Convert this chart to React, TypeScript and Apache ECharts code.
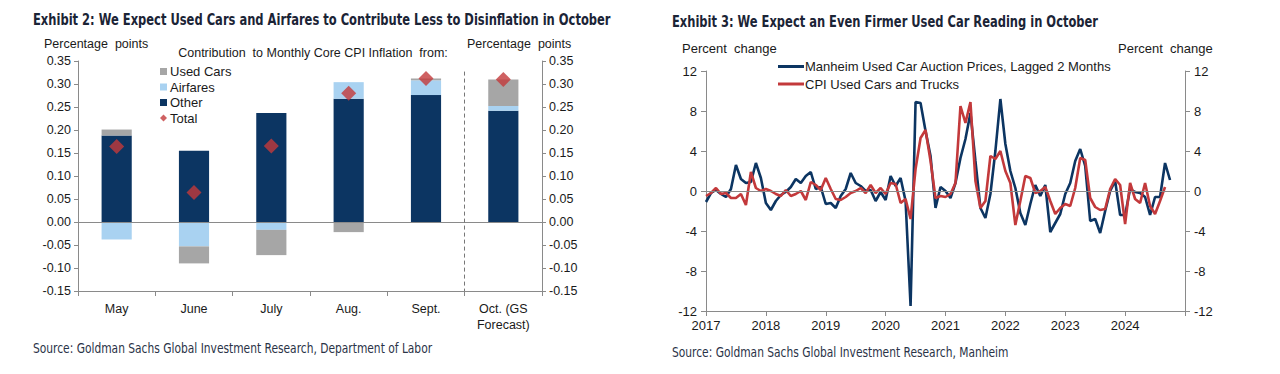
import React, { useEffect, useRef } from "react";
import * as echarts from "echarts";

// ---- Exhibit 2 data ----
const categories = ["May", "June", "July", "Aug.", "Sept.", "Oct. (GS\nForecast)"];
const otherValues = [0.188, 0.155, 0.237, 0.268, 0.276, 0.242];
const airfaresValues = [-0.038, -0.053, -0.017, 0.036, 0.032, 0.01];
const usedCarsValues = [0.013, -0.037, -0.055, -0.022, 0.004, 0.058];
const totalValues = [0.164, 0.064, 0.165, 0.280, 0.312, 0.310];

// ---- Exhibit 3 data (monthly, Jan 2017 onwards) ----
const yearLabels = ["2017", "2018", "2019", "2020", "2021", "2022", "2023", "2024"];
const manheimValues = [
  -1.1, -0.2, 0.1, -0.3, -0.6, 0.2, 2.6, 1.2, 0.8, 0.9, 2.8, 1.3,
  -1.2, -1.9, -1.0, -0.4, -0.1, 0.4, 1.2, 0.8, 1.5, 1.9, 0.2, 0.4,
  -1.3, -1.2, -1.7, -0.5, 0.2, 1.8, 0.8, 0.5, 0.0, 0.1, -1.0, -0.1,
  -0.9, 1.5, 0.5, 1.3, -1.0, -11.5, 8.9, 8.8, 6.0, 3.5, -1.7, 0.4,
  0.0, -0.7, 0.8, 3.3, 5.2, 7.8, 3.0, -1.7, -2.7, -0.3, 4.0, 9.2,
  4.7, 2.0, 0.3, -2.2, -3.4, -1.3, 0.6, -0.5, 0.6, -4.1, -3.2, -2.3,
  -0.3, 0.8, 3.0, 4.2, 2.5, -3.0, -2.8, -4.2, -2.0, 0.0, 1.0, -2.4,
  -2.4, 0.2, -0.1, -0.2, -0.6, -2.4, -0.6, -0.6, 2.8, 1.1,
];
const cpiUsedCarsValues = [
  -0.5, -0.2, 0.3, -0.3, -0.2, -0.7, -0.7, -0.3, -1.4, 1.9, 0.3, 0.0,
  0.2, 0.0, -0.3, -0.5, 0.1, -0.5, -0.3, 0.0, -0.9, 0.9, 0.6, 0.1,
  1.3, 0.2, -0.8, -0.9, -0.6, -0.2, 0.0, 0.3, -0.2, 0.6, -0.2, 0.3,
  -0.3, 0.8, 0.7, -1.2, -0.8, -2.8, 2.2, 5.3, 6.1, 3.0, -0.7, -0.5,
  -0.6, -0.3, 0.8, 8.5, 6.8, 8.9, 1.0, -1.7, -1.0, 3.5, 3.2, 4.0,
  2.0, 0.8, -3.4, -1.0, 1.5, 1.3, -0.2, 0.0, 0.4, -1.0, -2.3, -1.7,
  -1.3, -1.5, 0.3, 3.3, 3.1, -0.7, -1.6, -1.9, -1.8, 0.2, 1.2, 0.6,
  -3.3, 0.8, -0.8, -1.2, 0.8, -1.5, -2.3, -1.0, 0.4,
];

const NAVY = "#0c3562";
const LIGHT_BLUE = "#a9d2f1";
const GREY = "#a6a6a6";
const RED = "#c3393b";
const AXIS = "#8a8a8a";
const TXT = "#1a1a1a";
const SANS = "'Liberation Sans', Arial, sans-serif";
const NARROW = "'DejaVu Sans Condensed', 'DejaVu Sans', sans-serif";

export default function App() {
  const ref = useRef<HTMLDivElement>(null);

  useEffect(() => {
    if (!ref.current) return;
    const chart = echarts.init(ref.current, undefined, { renderer: "svg" });

    const valueAxisCommon = {
      axisLine: { show: true, lineStyle: { color: AXIS } },
      axisTick: { show: true, length: 4, lineStyle: { color: AXIS } },
      splitLine: { show: false },
      axisLabel: { color: TXT, fontSize: 12.5, fontFamily: SANS, margin: 7 },
    };

    const midText = (x: number, y: number, text: string, font: string, fill: string, scaleX = 1, align = "left") => ({
      type: "text",
      x,
      y,
      scaleX,
      style: {
        text,
        font,
        fill,
        textAlign: align,
        align,
        textVerticalAlign: "middle",
        verticalAlign: "middle",
      },
    });

    const option: any = {
      animation: false,
      backgroundColor: "#ffffff",
      textStyle: { fontFamily: SANS },
      grid: [
        { left: 78, top: 61, width: 464, height: 230 },
        { left: 706, top: 71, width: 479, height: 240 },
      ],
      xAxis: [
        {
          type: "category",
          gridIndex: 0,
          data: categories,
          axisLine: { onZero: false, lineStyle: { color: AXIS } },
          axisTick: { show: true, length: 5, lineStyle: { color: AXIS } },
          axisLabel: { color: TXT, fontSize: 12.5, margin: 10, lineHeight: 16, interval: 0 },
        },
        { type: "value", gridIndex: 0, min: 0, max: 6, show: false },
        {
          type: "value",
          gridIndex: 1,
          min: 0,
          max: 96,
          interval: 12,
          axisLine: { onZero: false, lineStyle: { color: AXIS } },
          axisTick: { show: true, length: 5, lineStyle: { color: AXIS } },
          splitLine: { show: false },
          axisLabel: {
            color: TXT,
            fontSize: 13,
            margin: 8,
            formatter: (v: number) => yearLabels[Math.round(v / 12)] ?? "",
          },
        },
      ],
      yAxis: [
        {
          type: "value",
          gridIndex: 0,
          position: "left",
          min: -0.15,
          max: 0.35,
          interval: 0.05,
          ...valueAxisCommon,
          axisLabel: { ...valueAxisCommon.axisLabel, formatter: (v: number) => v.toFixed(2) },
        },
        {
          type: "value",
          gridIndex: 0,
          position: "right",
          min: -0.15,
          max: 0.35,
          interval: 0.05,
          ...valueAxisCommon,
          axisLabel: { ...valueAxisCommon.axisLabel, formatter: (v: number) => v.toFixed(2) },
        },
        {
          type: "value",
          gridIndex: 1,
          position: "left",
          min: -12,
          max: 12,
          interval: 4,
          ...valueAxisCommon,
          axisTick: { show: true, length: 5, lineStyle: { color: AXIS } },
          axisLabel: { ...valueAxisCommon.axisLabel, fontSize: 13, margin: 9 },
        },
        {
          type: "value",
          gridIndex: 1,
          position: "right",
          min: -12,
          max: 12,
          interval: 4,
          ...valueAxisCommon,
          axisTick: { show: true, length: 5, lineStyle: { color: AXIS } },
          axisLabel: { ...valueAxisCommon.axisLabel, fontSize: 13, margin: 9 },
        },
      ],
      legend: [
        {
          orient: "vertical",
          left: 155,
          top: 60,
          itemWidth: 7,
          itemHeight: 7,
          itemGap: 2.5,
          textStyle: { color: TXT, fontSize: 13, fontFamily: SANS, padding: [0, 0, 0, -2] },
          data: [
            { name: "Used Cars", icon: "rect" },
            { name: "Airfares", icon: "rect" },
            { name: "Other", icon: "rect" },
            { name: "Total", icon: "diamond" },
          ],
        },
        {
          orient: "vertical",
          left: 773,
          top: 55,
          itemWidth: 26,
          itemHeight: 3,
          itemGap: 4.5,
          icon: "rect",
          textStyle: { color: TXT, fontSize: 13, fontFamily: SANS, padding: [0, 0, 0, -4] },
          data: ["Manheim Used Car Auction Prices, Lagged 2 Months", "CPI Used Cars and Trucks"],
        },
      ],
      series: [
        {
          name: "Other",
          type: "bar",
          stack: "contrib",
          xAxisIndex: 0,
          yAxisIndex: 0,
          barWidth: "39%",
          itemStyle: { color: NAVY },
          data: otherValues,
          markLine: {
            silent: true,
            symbol: ["none", "none"],
            label: { show: false },
            lineStyle: { color: AXIS, type: "solid", width: 1 },
            data: [{ yAxis: 0 }],
          },
        },
        {
          name: "Airfares",
          type: "bar",
          stack: "contrib",
          xAxisIndex: 0,
          yAxisIndex: 0,
          barWidth: "39%",
          itemStyle: { color: LIGHT_BLUE },
          data: airfaresValues,
        },
        {
          name: "Used Cars",
          type: "bar",
          stack: "contrib",
          xAxisIndex: 0,
          yAxisIndex: 0,
          barWidth: "39%",
          itemStyle: { color: GREY },
          data: usedCarsValues,
        },
        {
          name: "Total",
          type: "scatter",
          xAxisIndex: 0,
          yAxisIndex: 0,
          symbol: "diamond",
          symbolSize: 15,
          itemStyle: { color: RED },
          z: 5,
          data: totalValues,
        },
        {
          name: "divider",
          type: "line",
          xAxisIndex: 1,
          yAxisIndex: 0,
          data: [],
          markLine: {
            silent: true,
            symbol: ["none", "none"],
            label: { show: false },
            lineStyle: { color: "#777", type: [4, 3], width: 1 },
            data: [[{ coord: [5, 0.327] }, { coord: [5, -0.15] }]],
          },
        },
        {
          name: "Manheim Used Car Auction Prices, Lagged 2 Months",
          type: "line",
          xAxisIndex: 2,
          yAxisIndex: 2,
          showSymbol: false,
          symbol: "none",
          lineStyle: { color: NAVY, width: 2.6 },
          itemStyle: { color: NAVY },
          data: manheimValues.map((v, i) => [i, v]),
          markLine: {
            silent: true,
            symbol: ["none", "none"],
            label: { show: false },
            lineStyle: { color: AXIS, type: "solid", width: 1 },
            data: [{ yAxis: 0 }],
          },
        },
        {
          name: "CPI Used Cars and Trucks",
          type: "line",
          xAxisIndex: 2,
          yAxisIndex: 2,
          showSymbol: false,
          symbol: "none",
          lineStyle: { color: RED, width: 2.6 },
          itemStyle: { color: RED },
          data: cpiUsedCarsValues.map((v, i) => [i, v]),
        },
      ],
      graphic: [
        midText(33, 20, "Exhibit 2: We Expect Used Cars and Airfares to Contribute Less to Disinflation in October", `bold 15px ${NARROW}`, "#1b2436", 0.853),
        midText(672, 22, "Exhibit 3: We Expect an Even Firmer Used Car Reading in October", `bold 15px ${NARROW}`, "#1b2436", 0.852),
        midText(44, 44, "Percentage  points", `12.5px ${SANS}`, TXT),
        midText(467, 44, "Percentage  points", `12.5px ${SANS}`, TXT),
        midText(313, 53, "Contribution  to Monthly Core CPI Inflation  from:", `12.5px ${SANS}`, TXT, 1, "center"),
        midText(682, 48, "Percent  change", `13px ${SANS}`, TXT),
        midText(1118, 48, "Percent  change", `13px ${SANS}`, TXT),
        midText(33, 348, "Source: Goldman Sachs Global Investment Research, Department of Labor", `13.5px ${NARROW}`, "#2a3347", 0.88),
        midText(672, 352, "Source: Goldman Sachs Global Investment Research, Manheim", `13.5px ${NARROW}`, "#2a3347", 0.88),
      ],
    };

    chart.setOption(option);
    return () => chart.dispose();
  }, []);

  return (
    <div
      ref={ref}
      style={{ position: "fixed", left: 0, top: 0, width: 1280, height: 374, background: "#fff" }}
    />
  );
}
